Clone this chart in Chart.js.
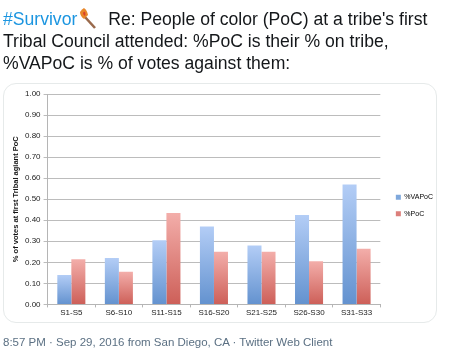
<!DOCTYPE html>
<html><head><meta charset="utf-8">
<style>
html,body{margin:0;padding:0;background:#fff;width:450px;height:358px;overflow:hidden;font-family:"Liberation Sans",Arial,sans-serif}
.tweet{position:absolute;left:3px;top:8px;width:445px;font-size:17.6px;line-height:22px;color:#14171a;white-space:nowrap;filter:blur(0.3px)}
.tag{color:#1b95e0}
.card{position:absolute;left:3px;top:83px;width:432px;height:238px;border:1px solid #e6eaea;border-radius:13px;background:#fff}
#wrap{position:absolute;left:0;top:0;width:450px;height:358px;filter:blur(0.4px)}
.foot{position:absolute;left:3px;top:336px;font-size:11.5px;color:#5b7083;white-space:nowrap;filter:blur(0.3px)}
.torch{display:inline-block;width:26px}
</style></head><body>
<div class="tweet"><span class="tag">#Survivor</span><span class="torch"><svg width="20" height="21" viewBox="0 0 20 21" style="vertical-align:-4px"><path d="M8 9 L18 20" stroke="#9a6a4c" stroke-width="2.6"/><path d="M3 4 Q5 1 7 0 Q10 2 11 7 L7 11 Q3 8 3 4Z" fill="#e8872a"/><path d="M6 5 Q7 3 8 4 Q9 6 8 8 Q6 7 6 5Z" fill="#d9412b"/></svg></span> Re: People of color (PoC) at a tribe's first<br>Tribal Council attended: %PoC is their % on tribe,<br>%VAPoC is % of votes against them:</div>
<div class="card"></div>
<div id="wrap"><canvas id="c" width="450" height="358"></canvas></div>
<div class="foot">8:57 PM · Sep 29, 2016 from San Diego, CA · Twitter Web Client</div>
<script src="https://cdn.jsdelivr.net/npm/chart.js@4/dist/chart.umd.min.js"></script>
<script>
const categories=["S1-S5","S6-S10","S11-S15","S16-S20","S21-S25","S26-S30","S31-S33"];
const vapoc=[0.14,0.22,0.305,0.37,0.28,0.425,0.57];
const poc=[0.215,0.155,0.435,0.25,0.25,0.205,0.265];
const seriesNames=["%VAPoC","%PoC"];
const yTitle="% of votes at first Tribal agiant PoC";
function grad(top,bottom){
  return function(ctx){
    const a=ctx.chart.chartArea;
    if(!a||!ctx.element) return top;
    const y=ctx.chart.scales.y.getPixelForValue(ctx.raw);
    const g=ctx.chart.ctx.createLinearGradient(0,y,0,a.bottom);
    g.addColorStop(0,top);g.addColorStop(1,bottom);
    return g;
  };
}
const shiftLegend={id:'shiftLegend',afterLayout(chart){const l=chart.legend;l.left+=6;l.right+=6;l.top-=1;l.bottom-=1;}};
new Chart(document.getElementById('c'),{
  type:'bar',
  data:{labels:categories,datasets:[
    {label:seriesNames[0],data:vapoc,backgroundColor:grad('#b3cdf6','#6392cf')},
    {label:seriesNames[1],data:poc,backgroundColor:grad('#f3aeaa','#cd5f58')}
  ]},
  plugins:[shiftLegend],
  options:{
    responsive:false,animation:false,
    categoryPercentage:0.59,barPercentage:1,
    layout:{padding:{left:11,top:94,right:13,bottom:39}},
    plugins:{
      title:{display:false},tooltip:{enabled:false},
      legend:{position:'right',align:'center',labels:{boxWidth:5,boxHeight:5,padding:9.5,color:'#333',font:{size:7,family:'"Liberation Sans"'},
        generateLabels(chart){return chart.data.datasets.map((d,i)=>({text:d.label,fillStyle:['#7fa8dc','#dc7f7b'][i],strokeStyle:'transparent',lineWidth:0,datasetIndex:i}));}}}
    },
    scales:{
      x:{grid:{display:true,drawOnChartArea:false,color:'#b5b5b5',tickLength:3},border:{color:'#b5b5b5',width:1},
        ticks:{color:'#222',font:{size:8,family:'"Liberation Sans"'},maxRotation:0,autoSkip:false,padding:1}},
      y:{min:0,max:1,grid:{color:'#bcbcbc',lineWidth:1,tickLength:4},border:{color:'#b5b5b5',width:1},
        ticks:{stepSize:0.1,color:'#222',font:{size:8,family:'"Liberation Sans"'},padding:3,callback:v=>v.toFixed(2)},
        title:{display:true,text:yTitle,color:'#111',font:{size:7.5,weight:'bold',family:'"Liberation Sans"'},padding:{top:0,bottom:2}}}
    }
  }
});
</script>
</body></html>
